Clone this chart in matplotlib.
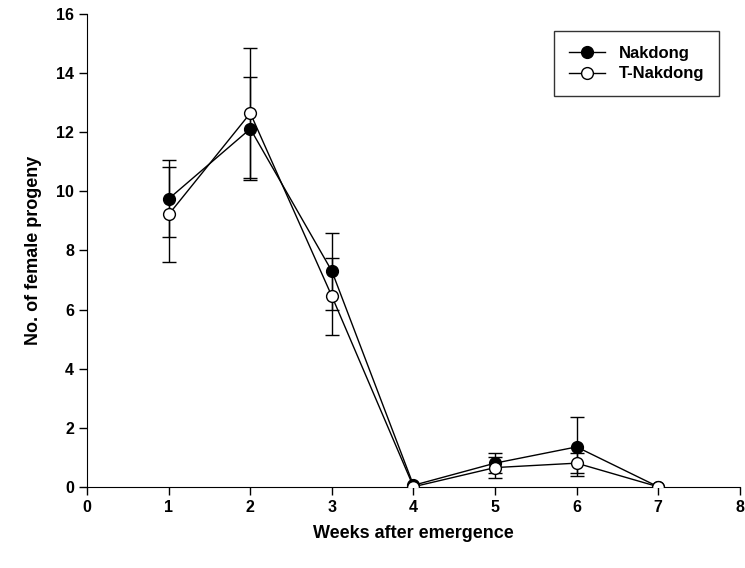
import matplotlib
matplotlib.use("Agg")
import matplotlib.pyplot as plt

plt.rcParams['font.family'] = ['Liberation Sans', 'DejaVu Sans']

weeks = [1, 2, 3, 4, 5, 6, 7]
nakdong = [9.75, 12.12, 7.3, 0.05, 0.8, 1.35, 0.0]
nakdong_err = [1.3, 1.75, 1.3, 0.0, 0.35, 1.0, 0.0]
t_nakdong = [9.22, 12.65, 6.45, 0.0, 0.65, 0.8, 0.0]
t_nakdong_err = [1.6, 2.2, 1.3, 0.0, 0.35, 0.35, 0.0]

fig = plt.figure(figsize=(7.45, 5.68), dpi=100)
ax = fig.add_axes([0.117, 0.143, 0.876, 0.832])


def series(y, err, face, label, z):
    idx = [i for i, e in enumerate(err) if e > 0]
    ax.errorbar([weeks[i] for i in idx], [y[i] for i in idx],
                yerr=[err[i] for i in idx], fmt='none', ecolor='black',
                elinewidth=1.0, capsize=5, capthick=1.0, zorder=z)
    ax.plot(weeks, y, color='black', marker='o', markersize=8.5,
            markerfacecolor=face, markeredgecolor='black', linewidth=1.0,
            label=label, zorder=z + 0.5)


series(nakdong, nakdong_err, 'black', 'Nakdong', 3)
series(t_nakdong, t_nakdong_err, 'white', 'T-Nakdong', 4)

ax.set_xlim(0, 8)
ax.set_ylim(0, 16)
ax.set_xticks(range(0, 9))
ax.set_yticks(range(0, 17, 2))
ax.spines['top'].set_visible(False)
ax.spines['right'].set_visible(False)
ax.tick_params(direction='out', length=6, width=1, labelsize=11.5)
for lbl in ax.get_xticklabels() + ax.get_yticklabels():
    lbl.set_fontweight('bold')

ax.set_xlabel('Weeks after emergence', fontsize=13, fontweight='bold', labelpad=7)
ax.set_ylabel('No. of female progeny', fontsize=13, fontweight='bold', labelpad=10)

leg = ax.legend(loc='upper right', bbox_to_anchor=(0.976, 0.976), frameon=True,
                fancybox=False, edgecolor='black', prop={'weight': 'bold', 'size': 12},
                handlelength=2.2, borderpad=0.9, labelspacing=0.35, borderaxespad=0.3)
leg.get_frame().set_linewidth(1.0)

fig.savefig('out.png', dpi=100)
